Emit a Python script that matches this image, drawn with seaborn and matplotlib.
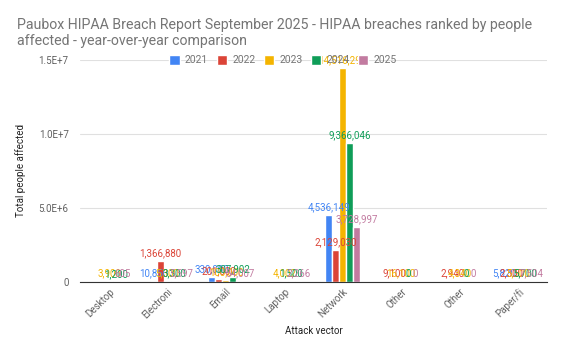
import numpy as np
import pandas as pd
import seaborn as sns
import matplotlib.pyplot as plt

# Valores (NaN = sin barra)
categories = ["Desktop", "Electroni", "Email", "Laptop", "Network", "Other", "Other", "Paper/fi"]
years = ["2021", "2022", "2023", "2024", "2025"]
v2021 = [np.nan, 10850, 330000, np.nan, 4536149, np.nan, np.nan, 5820]
v2022 = [np.nan, 1366880, 201000, np.nan, 2129030, 9100, 2940, 2300]
v2023 = [3900, 5300, 100000, 4002, 14516294, 16100, 4340, 5500]
v2024 = [1200, 3300, 307902, 1500, 9366046, 0, 0, 5700]
v2025 = [605, 5597, 54007, 2266, 3728997, 0, 0, 7504]
colors = ["#4285F4", "#DB4437", "#F4B400", "#0F9D58", "#C27BA0"]

series = [v2021, v2022, v2023, v2024, v2025]
keys = [str(i) for i in range(len(categories))]
rows = []
for y, vals in zip(years, series):
    for k, v in zip(keys, vals):
        rows.append({"slot": k, "year": y, "people": v})
df = pd.DataFrame(rows)

sns.set_style("white")
plt.rcParams["font.family"] = ["Roboto", "DejaVu Sans"]

fig = plt.figure(figsize=(5.7, 3.51), dpi=100)
ax = fig.add_axes([0.14, 0.198, 0.82, 0.63])

sns.barplot(data=df, x="slot", y="people", hue="year", order=keys,
            hue_order=years, palette=colors, width=0.6, saturation=1,
            dodge=True, ax=ax, legend=True)

for cont, c in zip(ax.containers, colors):
    labels = []
    for v in cont.datavalues:
        labels.append("" if np.isnan(v) else f"{v:,.0f}")
    ax.bar_label(cont, labels=labels, color=c, fontsize=7, padding=2)

ax.set_ylim(0, 1.5e7)
ax.set_yticks([0, 5e6, 1e7, 1.5e7])
ax.set_yticklabels(["0", "5.0E+6", "1.0E+7", "1.5E+7"])
ax.set_xticks(range(len(categories)))
ax.set_xticklabels(categories, rotation=45, ha="right", rotation_mode="anchor")
ax.tick_params(axis="both", length=0, labelsize=7, colors="#616161")
ax.tick_params(axis="y", pad=8)
ax.grid(axis="y", color="#e0e0e0", linewidth=0.8)
ax.set_axisbelow(True)
for s in ["top", "right", "left"]:
    ax.spines[s].set_visible(False)
ax.spines["bottom"].set_color("#333333")

ax.set_xlabel("Attack vector", fontsize=7, color="#222222")
ax.set_ylabel("Total people affected", fontsize=7, color="#222222", labelpad=9)

leg = ax.legend(loc="center", bbox_to_anchor=(0.435, 1.0), ncol=5,
                frameon=False, fontsize=7.5, handlelength=1.0, handleheight=1.0,
                columnspacing=0.8, handletextpad=0.5)
for t in leg.get_texts():
    t.set_color("#757575")

fig.text(0.03, 0.862, "Paubox HIPAA Breach Report September 2025 - HIPAA breaches ranked by people\naffected - year-over-year comparison",
         fontsize=10.2, color="#757575", ha="left", va="bottom", linespacing=1.25)

fig.savefig("out.png", dpi=100, facecolor="white")
